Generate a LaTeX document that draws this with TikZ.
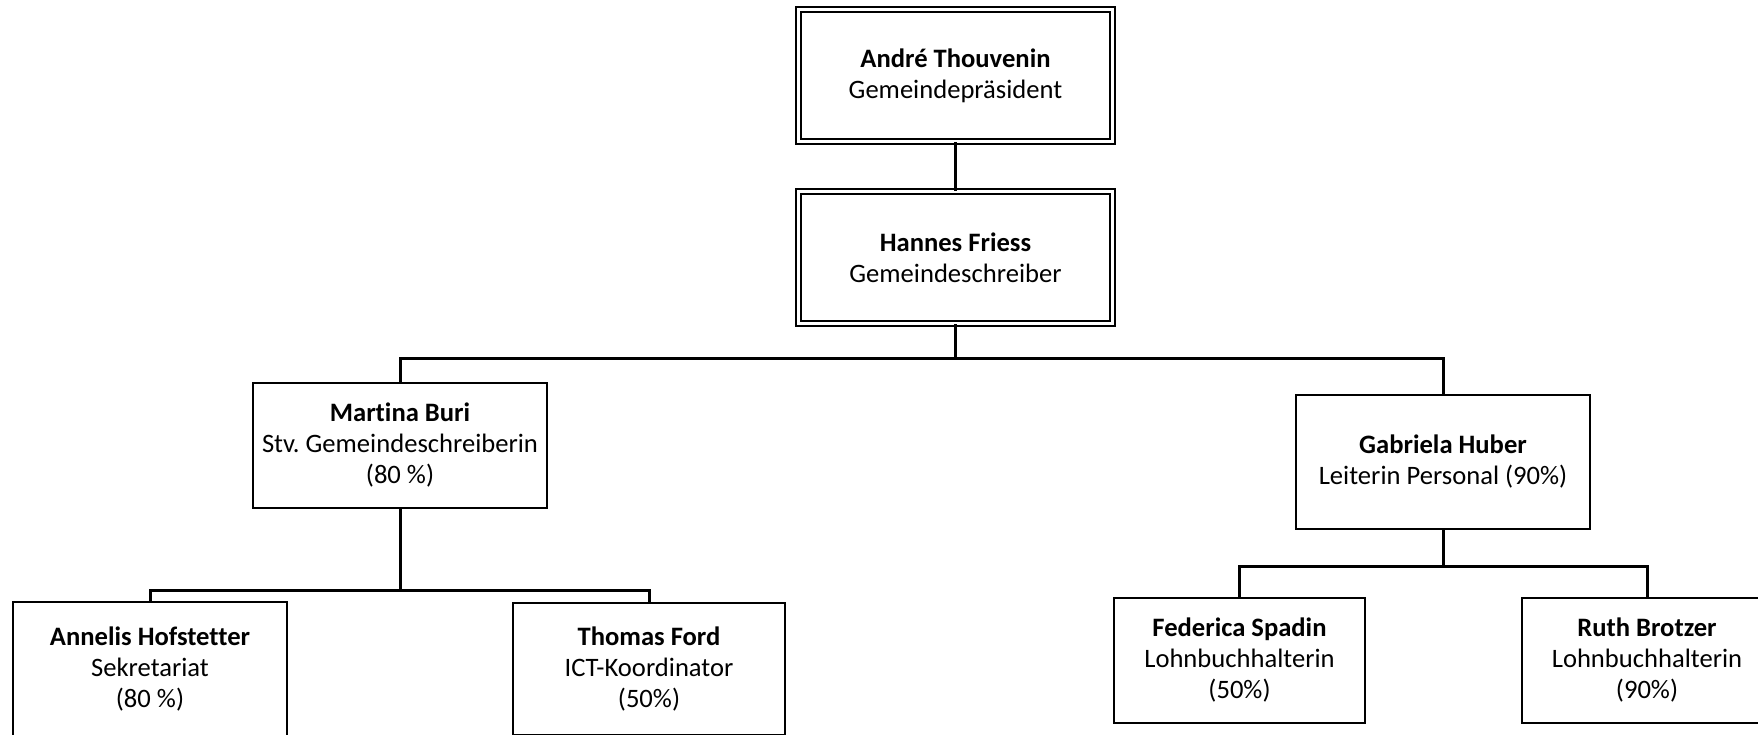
\documentclass[tikz,border=0pt]{standalone}
\usepackage{fontspec}
\setmainfont{Carlito}[Ligatures={NoCommon}]
\frenchspacing
\begin{document}
\begin{tikzpicture}[x=1pt,y=-1pt,
  box/.style={draw, line width=1.6pt, align=center, inner sep=0pt, font=\fontsize{26.6}{31}\selectfont},
  dbox/.style={box, double, line width=1.4pt, double distance=3.6pt},
  conn/.style={line width=3pt}]
\useasboundingbox (0,0) rectangle (1758,735);
\node[dbox, minimum width=314pt, minimum height=132pt] (andre) at (955.5,75.5) {\textbf{André Thouvenin}\\Gemeindepräsident};
\node[dbox, minimum width=314pt, minimum height=132pt] (hannes) at (955.5,257.5) {\textbf{Hannes Friess}\\Gemeindeschreiber};
\node[box, minimum width=294pt, minimum height=125pt] (martina) at (400,445.5) {\textbf{Martina Buri}\\Stv. Gemeindeschreiberin\\(80 \%)};
\node[box, minimum width=294pt, minimum height=134pt] (gabriela) at (1443,462) {\textbf{Gabriela Huber}\\Leiterin Personal (90\%)};
\node[box, minimum width=274pt, minimum height=134pt] (annelis) at (150,669) {\textbf{Annelis Hofstetter}\\Sekretariat\\(80 \%)};
\node[box, minimum width=272pt, minimum height=132pt] (thomas) at (649,669) {\textbf{Thomas Ford}\\ICT-Koordinator\\(50\%)};
\node[box, minimum width=251pt, minimum height=125pt] (federica) at (1239.5,660.5) {\textbf{Federica Spadin}\\Lohnbuchhalterin\\(50\%)};
\node[box, minimum width=250pt, minimum height=125pt] (ruth) at (1647,660.5) {\textbf{Ruth Brotzer}\\Lohnbuchhalterin\\(90\%)};
\coordinate (j1) at (954,358);
\coordinate (j2) at (400,590);
\coordinate (j3) at (1443,566);
\draw[conn] (andre.south) -- (hannes.north);
\draw[conn] (hannes.south) -- (hannes.south |- j1);
\draw[conn] (martina.north) |- (gabriela.north |- j1) -- (gabriela.north);
\draw[conn] (martina.south) -- (j2);
\draw[conn] (annelis.north) |- (thomas.north |- j2) -- (thomas.north);
\draw[conn] (gabriela.south) -- (j3);
\draw[conn] (federica.north) |- (ruth.north |- j3) -- (ruth.north);
\end{tikzpicture}
\end{document}
